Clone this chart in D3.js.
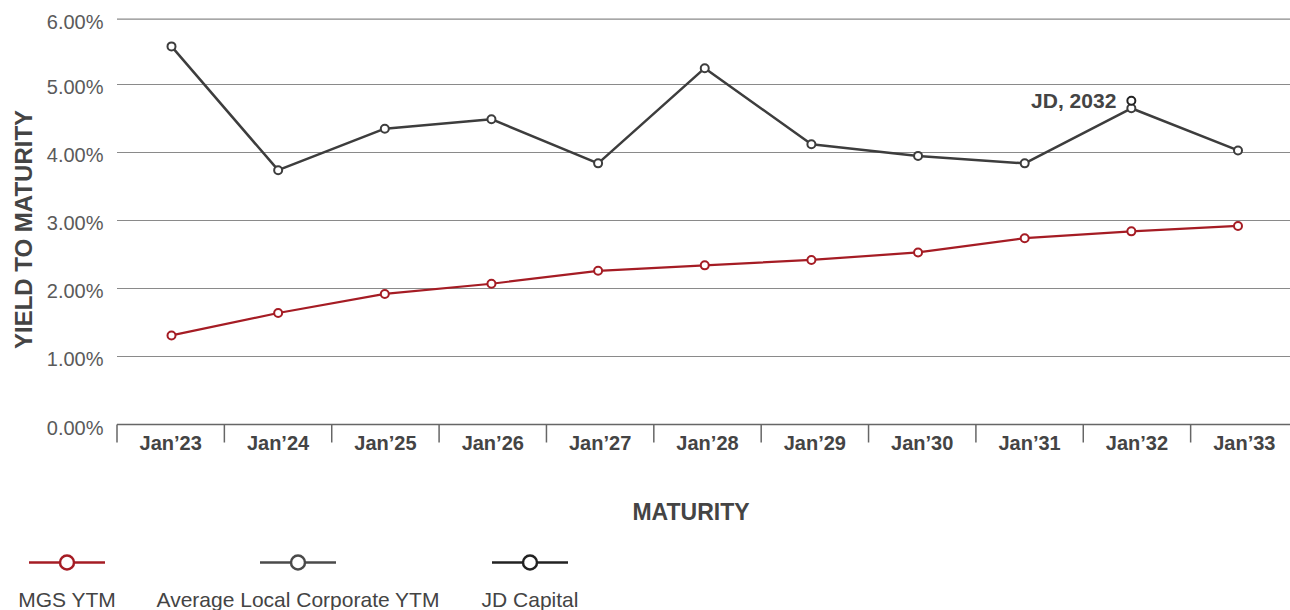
<!DOCTYPE html>
<html>
<head>
<meta charset="utf-8">
<script src="https://cdn.jsdelivr.net/npm/d3@7"></script>
<style>
  html, body { margin: 0; padding: 0; background: #fff; }
  svg { display: block; font-family: "Liberation Sans", Arial, Helvetica, sans-serif; }
</style>
</head>
<body>
<svg id="chart" width="1290" height="610"></svg>
<script>
// ---- Data ----
const categories = ["Jan’23","Jan’24","Jan’25","Jan’26","Jan’27","Jan’28","Jan’29","Jan’30","Jan’31","Jan’32","Jan’33"];
const mgsYTM = [1.31, 1.64, 1.92, 2.07, 2.26, 2.34, 2.42, 2.53, 2.74, 2.84, 2.92];
const avgCorpYTM = [5.56, 3.74, 4.35, 4.49, 3.84, 5.24, 4.12, 3.95, 3.84, 4.65, 4.03];
const jdCapital = [{ cat: "Jan’32", value: 4.76, label: "JD, 2032" }];
const yTicks = [0, 1, 2, 3, 4, 5, 6];
const legendNames = ["MGS YTM", "Average Local Corporate YTM", "JD Capital"];

// ---- Setup ----
const svg = d3.select("#chart");
const colRed = "#a51c24", colCorp = "#3d3d3d", colJD = "#222222";
const gridCol = "#8a8a8a";

const xBand = d3.scaleBand().domain(categories).range([117, 1298]).paddingInner(0).paddingOuter(0);
const xPt = d3.scalePoint().domain(categories).range([171.5, 1238]);
const y = d3.scaleLinear().domain([0, 5.96]).range([424.5, 19.2]).clamp(true);

// gridlines
svg.append("g").selectAll("line").data(yTicks.filter(d => d > 0)).join("line")
  .attr("x1", 117).attr("x2", 1290)
  .attr("y1", d => y(d)).attr("y2", d => y(d))
  .attr("stroke", gridCol).attr("stroke-width", 1.2);

// y labels
svg.append("g").selectAll("text").data(yTicks).join("text")
  .attr("x", 103.5).attr("y", d => y(d) + 10)
  .attr("text-anchor", "end")
  .attr("font-size", 20).attr("fill", "#5a5a5a")
  .text(d => d3.format(".2f")(d) + "%");

// x axis
const xAxis = d3.axisBottom(xBand).tickSize(0).tickFormat("");
const gx = svg.append("g").attr("transform", `translate(0,${y(0)})`).call(xAxis);
gx.select(".domain").remove();
gx.append("line").attr("x1", 117).attr("x2", 1290).attr("y1", 0).attr("y2", 0)
  .attr("stroke", "#666").attr("stroke-width", 1.5);
gx.selectAll(".sep").data(categories).join("line").attr("class", "sep")
  .attr("x1", d => xBand(d)).attr("x2", d => xBand(d))
  .attr("y1", 0).attr("y2", 18).attr("stroke", "#666").attr("stroke-width", 1.5);
gx.selectAll(".tl").data(categories).join("text").attr("class", "tl")
  .attr("x", d => xBand(d) + xBand.bandwidth() / 2).attr("y", 25)
  .attr("text-anchor", "middle").attr("font-size", 20).attr("font-weight", "bold")
  .attr("fill", "#444").text(d => d);

// axis titles
svg.append("text")
  .attr("transform", "translate(31.5,229.5) rotate(-90)")
  .attr("text-anchor", "middle").attr("font-size", 24).attr("font-weight", "bold")
  .attr("fill", "#444").text("YIELD TO MATURITY");
svg.append("text")
  .attr("x", 691).attr("y", 520)
  .attr("text-anchor", "middle").attr("font-size", 23).attr("font-weight", "bold")
  .attr("fill", "#444").text("MATURITY");

// lines
const line = d3.line().x(d => xPt(d.cat)).y(d => y(d.v));
function drawSeries(values, color, sw) {
  const data = categories.map((c, i) => ({ cat: c, v: values[i] }));
  svg.append("path").datum(data).attr("d", line)
    .attr("fill", "none").attr("stroke", color).attr("stroke-width", sw).attr("stroke-linejoin", "round");
  svg.append("g").selectAll("circle").data(data).join("circle")
    .attr("cx", d => xPt(d.cat)).attr("cy", d => y(d.v)).attr("r", 4)
    .attr("fill", "#fff").attr("stroke", color).attr("stroke-width", 2);
}
drawSeries(mgsYTM, colRed, 2.2);
drawSeries(avgCorpYTM, colCorp, 2.5);

// JD point
svg.append("g").selectAll("circle").data(jdCapital).join("circle")
  .attr("cx", d => xPt(d.cat)).attr("cy", d => y(d.value)).attr("r", 4)
  .attr("fill", "#fff").attr("stroke", colJD).attr("stroke-width", 2);
svg.append("g").selectAll("text").data(jdCapital).join("text")
  .attr("x", d => xPt(d.cat) - 15).attr("y", d => y(d.value) + 7)
  .attr("text-anchor", "end").attr("font-size", 21).attr("font-weight", "bold")
  .attr("fill", "#444").text(d => d.label);

// legend
const legendX = [67, 298, 530];
const legendCol = [colRed, "#4a4a4a", colJD];
const lg = svg.append("g").selectAll("g").data(legendNames).join("g")
  .attr("transform", (d, i) => `translate(${legendX[i]},562.5)`);
lg.append("line").attr("x1", -38).attr("x2", 38).attr("y1", 0).attr("y2", 0)
  .attr("stroke", (d, i) => legendCol[i]).attr("stroke-width", 2.5);
lg.append("circle").attr("r", 7).attr("fill", "#fff")
  .attr("stroke", (d, i) => legendCol[i]).attr("stroke-width", 2.5);
lg.append("text").attr("x", 0).attr("y", 44.5).attr("text-anchor", "middle")
  .attr("font-size", 21).attr("fill", "#444").text(d => d);
</script>
</body>
</html>
